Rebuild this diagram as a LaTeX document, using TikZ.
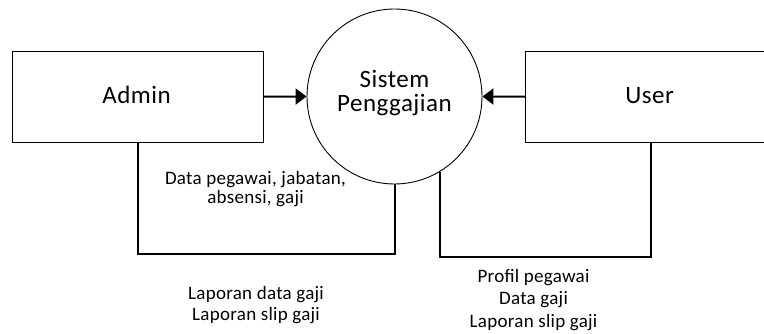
\documentclass[tikz,border=0pt]{standalone}
\usepackage{fontspec}
\setmainfont{Carlito}
\usetikzlibrary{arrows.meta}
\begin{document}
\begin{tikzpicture}[x=1pt,y=-1pt,
  entity/.style={draw, line width=0.9pt, minimum width=251pt, minimum height=91.5pt, inner sep=0pt},
  process/.style={draw, circle, line width=0.9pt, minimum size=175pt, inner sep=0pt},
  bigtext/.style={font=\fontsize{25}{27}\selectfont\addfontfeature{LetterSpace=2}, inner sep=0pt, anchor=base},
  smalltext/.style={font=\fontsize{19}{21}\selectfont\addfontfeature{LetterSpace=1.5}, inner sep=0pt, anchor=base},
  flow/.style={line width=2pt},
  head/.style={-{Triangle[length=11pt,width=16pt]}}]
  \useasboundingbox (0,0) rectangle (764,334);
  \begin{scope}
    \clip (0,0) rectangle (764,334);
    % external entities and the process
    \node[entity] (Admin) at (137.5,96.75) {};
    \node[entity] (User) at (651,96.75) {};
    \node[process] (Sys) at (394.5,96.5) {};
  \end{scope}

  % labels inside the shapes
  \node[bigtext] (adminlbl) at (136.5,104) {Admin};
  \node[bigtext] (userlbl) at (649.5,104) {User};
  \node[bigtext] (syslbl1) at (394.5,88) {Sistem};
  \node[bigtext] (syslbl2) at (394.5,112) {Penggajian};

  % inputs to the process
  \draw[flow,head] (Admin.east) -- (Sys.west);
  \draw[flow,head] (User.west) -- (Sys.east);

  % data flow loops below
  \coordinate (abot) at (394.5,254.5);
  \coordinate (ubotref) at (0,257);
  \draw[flow] (Admin.south) |- (abot) -- (Sys.south);
  \draw[flow] (Sys.-59.4) -- (Sys.-59.4 |- ubotref) -| (User.south);

  % flow labels
  \node[smalltext] (in1) at (255.5,185) {Data pegawai, jabatan,};
  \node[smalltext] (in2) at (255.5,204) {absensi, gaji};
  \node[smalltext] (out1) at (256,299) {Laporan data gaji};
  \node[smalltext] (out2) at (256,320) {Laporan slip gaji};
  \node[smalltext] (uout1) at (533.5,283) {Profil pegawai};
  \node[smalltext] (uout2) at (533.5,305) {Data gaji};
  \node[smalltext] (uout3) at (533.5,327) {Laporan slip gaji};
\end{tikzpicture}
\end{document}
